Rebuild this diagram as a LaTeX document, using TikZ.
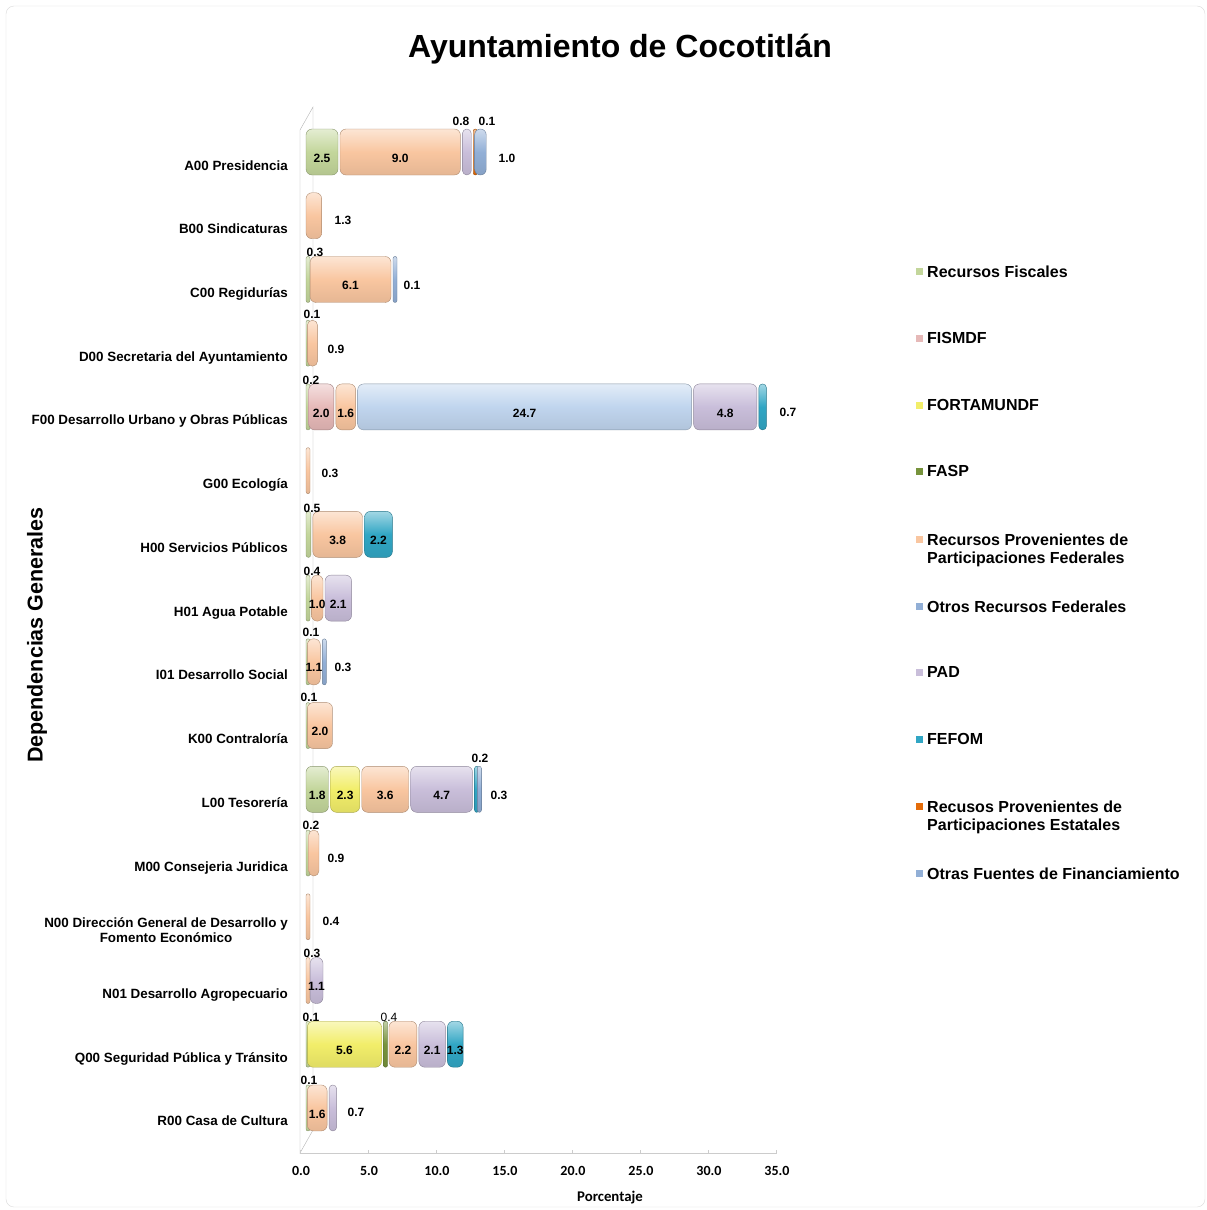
\documentclass[tikz,border=0pt]{standalone}
\usepackage{fontspec}
\setmainfont{Liberation Sans}
\newfontfamily\calib{Carlito}
\definecolor{rfc}{HTML}{C3D69B}
\definecolor{fismc}{HTML}{E6B9B8}
\definecolor{fortc}{HTML}{F2EE6A}
\definecolor{faspc}{HTML}{77933C}
\definecolor{rppfc}{HTML}{F9C6A0}
\definecolor{orfc}{HTML}{C0D5EE}
\definecolor{padc}{HTML}{C9BEDA}
\definecolor{fefomc}{HTML}{31A6C4}
\definecolor{rppec}{HTML}{E46C0A}
\definecolor{offc}{HTML}{92AFD6}
\begin{document}
\begin{tikzpicture}[x=1pt,y=-1pt,
    cat/.style={anchor=base east,align=center,inner sep=0pt,font=\bfseries\fontsize{13.4}{15}\selectfont},
    val/.style={inner sep=0pt,font=\bfseries\fontsize{12}{13}\selectfont},
    leg/.style={anchor=north west,align=left,inner sep=0pt,font=\bfseries\fontsize{16}{18}\selectfont},
    tick/.style={font=\calib\bfseries\fontsize{14}{15}\selectfont}]
\def\xo{305};%inicio de las barras
\def\esc{13.6};%px por unidad de porcentaje
\def\dy{63.73};%separacion entre filas
\def\hb{23};%media altura de barra

\useasboundingbox (0,0) rectangle (1207,1210);
%Marco
\draw[gray!30,rounded corners=8] (6,6) rectangle (1205,1207);

%Titulo
\node[anchor=base,font=\bfseries\fontsize{32}{36}\selectfont] (titulo) at (620,57) {Ayuntamiento de Cocotitlán};

%Pared 3D y eje
\draw[gray!60] (300,130) -- (313,107) -- (313,1130) -- (300,1153) -- cycle;
\draw[gray!40] (300,1153) -- (777,1153);
\foreach \t [count=\i] in {0,5,...,35}{
    \draw[gray!40] ({300+\esc*\t},1153) -- ++(0,-3);
    \node[tick] (eje\i) at ({301+\esc*\t},1171) {\t.0};
}
\node[tick,font=\calib\bfseries\fontsize{14.8}{16}\selectfont] (porc) at (610,1198) {Porcentaje};
\node[rotate=90,font=\bfseries\fontsize{21.5}{24}\selectfont] (ytit) at (37,635) {Dependencias Generales};

%Etiquetas de dependencias
\foreach \n [count=\i from 0] in {A00 Presidencia,B00 Sindicaturas,C00 Regidurías,
    D00 Secretaria del Ayuntamiento,F00 Desarrollo Urbano y Obras Públicas,G00 Ecología,
    H00 Servicios Públicos,H01 Agua Potable,I01 Desarrollo Social,K00 Contraloría,
    L00 Tesorería,M00 Consejeria Juridica,,N01 Desarrollo Agropecuario,
    Q00 Seguridad Pública y Tránsito,R00 Casa de Cultura}{
    \node[cat] (cat\i) at (288,{170+\dy*\i}) {\n};
}
\node[cat,anchor=east] (cat12) at (288,930) {N00 Dirección General de Desarrollo y\\Fomento Económico};

%Barras apiladas
\foreach \r/\segs in {0/{rfc/2.5/1,rppfc/9.0/1,padc/0.8/0,rppec/0.1/0,offc/1.0/0},
    1/{rppfc/1.3/0},
    2/{rfc/0.3/0,rppfc/6.1/1,offc/0.1/0},
    3/{rfc/0.1/0,rppfc/0.9/0},
    4/{rfc/0.2/0,fismc/2.0/1,rppfc/1.6/1,orfc/24.7/1,padc/4.8/1,fefomc/0.7/0},
    5/{rppfc/0.3/0},
    6/{rfc/0.5/0,rppfc/3.8/1,fefomc/2.2/1},
    7/{rfc/0.4/0,rppfc/1.0/1,padc/2.1/1},
    8/{rfc/0.1/0,rppfc/1.1/1,offc/0.3/0},
    9/{rfc/0.1/0,rppfc/2.0/1},
    10/{rfc/1.8/1,fortc/2.3/1,rppfc/3.6/1,padc/4.7/1,fefomc/0.2/0,offc/0.3/0},
    11/{rfc/0.2/0,rppfc/0.9/0},
    12/{rppfc/0.4/0},
    13/{rppfc/0.3/0,padc/1.1/1},
    14/{rfc/0.1/0,fortc/5.6/1,faspc/0.4/0,rppfc/2.2/1,padc/2.1/1,fefomc/1.3/1},
    15/{rfc/0.1/0,rppfc/1.6/1,padc/0.7/0}}{
    \pgfmathsetmacro\yc{152+\dy*\r}
    \gdef\acc{0}
    \foreach \cl/\va/\sh [count=\j] in \segs{
        \pgfmathsetmacro\xa{\xo+\esc*\acc+1}
        \pgfmathsetmacro\w{max(\esc*\va-2,4)}
        \pgfmathsetmacro\rc{min(6,\w/2)}
        \shade[rounded corners=\rc,top color=\cl!45!white,bottom color=\cl!92!black,middle color=\cl,draw=\cl!70!black,line width=0.4pt]
            (\xa,\yc-\hb) rectangle ++(\w,2*\hb);
        \ifnum\sh=1 \node[val] (b\r-\j) at (\xa+\w/2,\yc+6) {\va}; \fi
        \pgfmathsetmacro\nacc{\acc+\va}
        \xdef\acc{\nacc}
    }
}

%Valores fuera de las barras
\foreach \x/\y/\lb [count=\i] in {461/121/0.8,487/121/0.1,507/158/1.0,343/220/1.3,315/252/0.3,
    412/285/0.1,312/314/0.1,336/349/0.9,311/380/0.2,788/412/0.7,330/473/0.3,312/508/0.5,
    312/571/0.4,311/632/0.1,343/667/0.3,309/697/0.1,480/758/0.2,499/795/0.3,311/825/0.2,
    336/858/0.9,331/921/0.4,312/953/0.3,311/1017/0.1,309/1080/0.1,356/1112/0.7}{
    \node[val] (f\i) at (\x,\y) {\lb};
}
\node[val,font=\fontsize{12}{13}\selectfont] (fasp) at (389,1017) {0.4};

%Leyenda
\foreach \y/\cl/\tx [count=\i] in {277/rfc/Recursos Fiscales,344/fismc/FISMDF,411/fortc/FORTAMUNDF,
    477/faspc/FASP,545/rppfc/{Recursos Provenientes de\\Participaciones Federales},
    612/offc/Otros Recursos Federales,678/padc/PAD,745/fefomc/FEFOM,
    812/rppec/{Recusos Provenientes de\\Participaciones Estatales},879/offc/Otras Fuentes de Financiamiento}{
    \fill[\cl] (916,\y-9.5) rectangle ++(7,7);
    \node[leg] (leg\i) at (927,\y-11.5) {\tx};
}
\end{tikzpicture}
\end{document}
